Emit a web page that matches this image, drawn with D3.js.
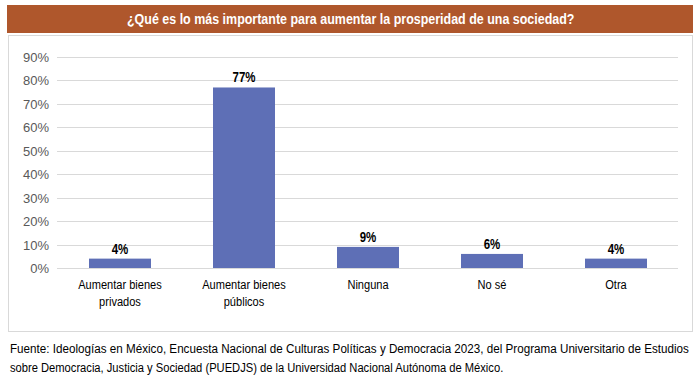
<!DOCTYPE html>
<html><head><meta charset="utf-8">
<script src="https://cdn.jsdelivr.net/npm/d3@7"></script>
<style>body{margin:0;background:#fff}</style>
</head><body>
<svg id="c" width="700" height="380"></svg>
<script>
const categories = [["Aumentar bienes","privados"],["Aumentar bienes","públicos"],["Ninguna"],["No sé"],["Otra"]];
const values = [4, 77, 9, 6, 4];
const yTicks = [0,10,20,30,40,50,60,70,80,90];
const title = "¿Qué es lo más importante para aumentar la prosperidad de una sociedad?";
const source = ["Fuente: Ideologías en México, Encuesta Nacional de Culturas Políticas y Democracia 2023, del Programa Universitario de Estudios",
 "sobre Democracia, Justicia y Sociedad (PUEDJS) de la Universidad Nacional Autónoma de México."];

const svg = d3.select("#c");
const font = "'Liberation Sans',Arial,sans-serif";
const SX = 0.82; // horizontal condensing factor
// title bar
svg.append("rect").attr("x",7).attr("y",5).attr("width",686).attr("height",28).attr("fill","#AF572C");
const tt = svg.append("text").attr("x",0).attr("y",24).attr("fill","#fff")
  .attr("font-family",font).attr("font-weight","bold").attr("font-size",15).text(title);
{ const w = tt.node().getComputedTextLength(); tt.attr("transform",`translate(127,0) scale(${448/w},1)`); }
// chart box
svg.append("rect").attr("x",8.5).attr("y",35.5).attr("width",684).attr("height",296).attr("fill","#fff").attr("stroke","#d9d9d9");

const x = d3.scaleBand().domain(d3.range(values.length)).range([58,678]).paddingInner(0.5).paddingOuter(0.25);
const y = d3.scaleLinear().domain([0,90]).range([268,57]);

const g = svg.append("g");
g.selectAll("line.grid").data(yTicks).join("line").attr("class","grid")
  .attr("x1",57).attr("x2",678).attr("y1",d=>Math.round(y(d))+0.5).attr("y2",d=>Math.round(y(d))+0.5)
  .attr("stroke","#d9d9d9").attr("stroke-width",1);
g.selectAll("text.yt").data(yTicks).join("text").attr("class","yt")
  .attr("x",49).attr("y",d=>y(d)+5).attr("text-anchor","end").attr("fill","#595959")
  .attr("font-family",font).attr("font-size",13).text(d=>d+"%");

g.selectAll("rect.bar").data(values).join("rect").attr("class","bar")
  .attr("x",(d,i)=>x(i)).attr("width",x.bandwidth()).attr("y",d=>y(d)).attr("height",d=>y(0)-y(d))
  .attr("fill","#5E6FB6");
g.selectAll("text.vl").data(values).join("text").attr("class","vl")
  .attr("transform",(d,i)=>`translate(${x(i)+x.bandwidth()/2},0) scale(${SX},1)`)
  .attr("x",0).attr("y",d=>y(d)-5).attr("text-anchor","middle")
  .attr("font-family",font).attr("font-weight","bold").attr("font-size",14).attr("fill","#000")
  .text(d=>d+"%");

const cl = g.selectAll("text.cat").data(categories).join("text").attr("class","cat")
  .attr("transform",(d,i)=>`translate(${x(i)+x.bandwidth()/2},0) scale(${SX},1)`)
  .attr("text-anchor","middle").attr("font-family",font).attr("font-size",13.5).attr("fill","#000");
cl.each(function(d,i){
  const t = d3.select(this);
  d.forEach((line,j)=>t.append("tspan").attr("x",0).attr("y",289+j*17).text(line));
});

const srcLen = [679, 494];
svg.selectAll("text.src").data(source).join("text").attr("class","src")
  .attr("x",0).attr("y",(d,i)=>353+i*19).attr("font-family",font).attr("font-size",13.5).attr("fill","#000")
  .text(d=>d)
  .each(function(d,i){ const w=this.getComputedTextLength(); d3.select(this).attr("transform",`translate(10,0) scale(${srcLen[i]/w},1)`); });
</script>
</body></html>
